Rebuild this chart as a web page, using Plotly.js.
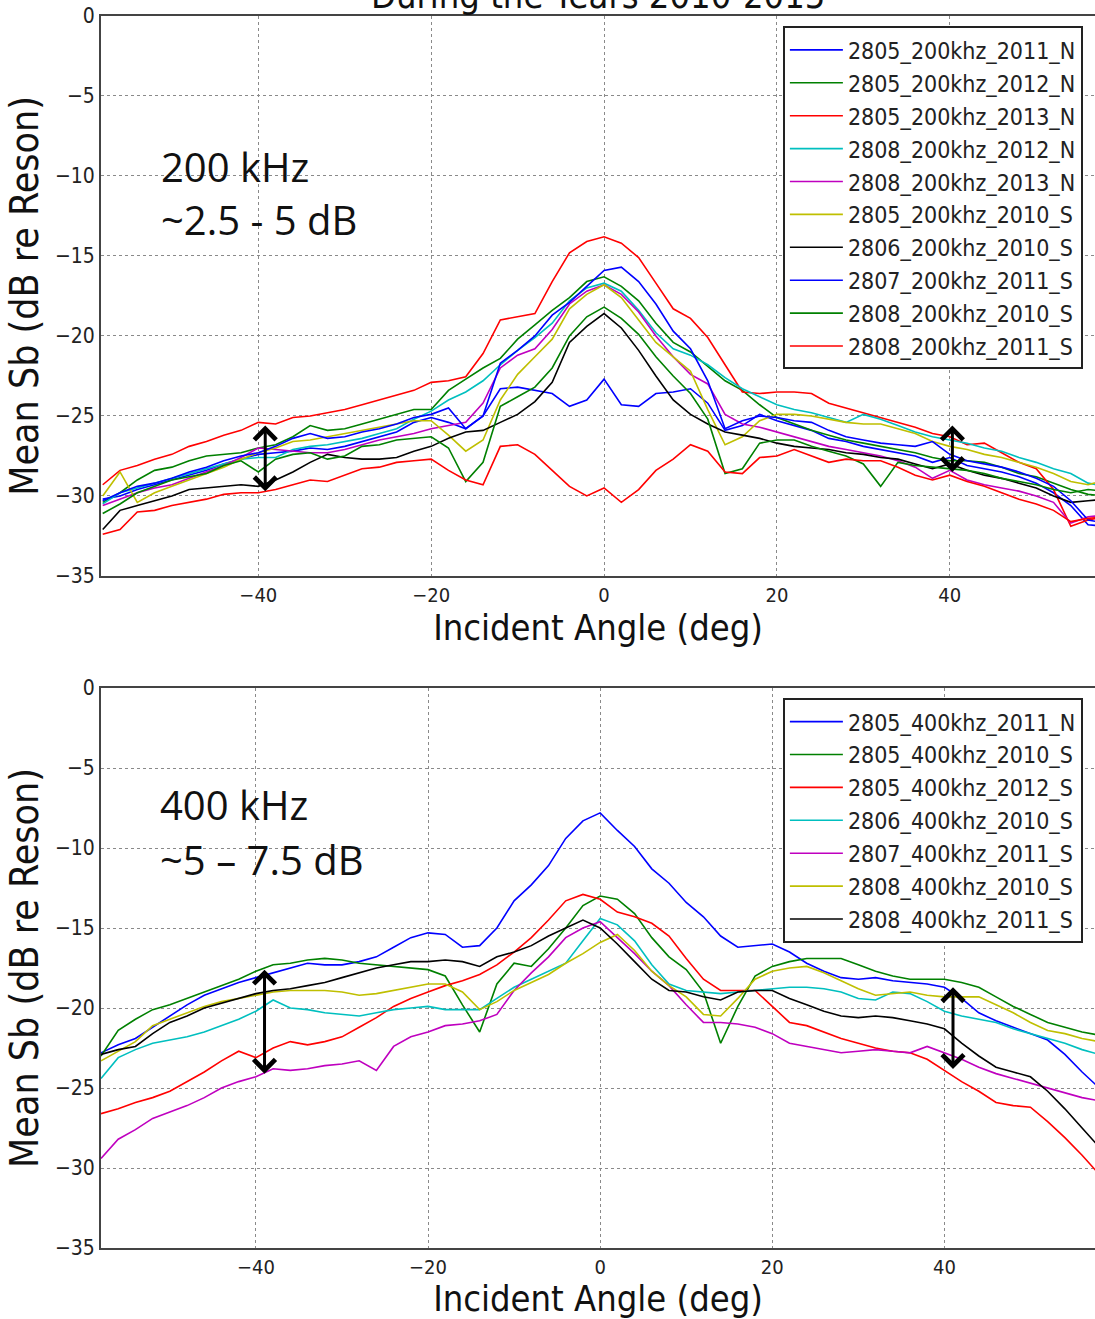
<!DOCTYPE html>
<html><head><meta charset="utf-8">
<script src="https://cdn.plot.ly/plotly-3.0.1.min.js"></script>
<style>html,body{margin:0;padding:0;background:#fff;overflow:hidden}#chart{width:1095px;height:1319px}</style>
</head><body><div id="chart"></div>
<script>
// Incident angle (deg) sample positions
const angles = [-58,-56,-54,-52,-50,-48,-46,-44,-42,-40,-38,-36,-34,-32,-30,-28,-26,-24,-22,-20,-18,-16,-14,-12,-10,-8,-6,-4,-2,0,2,4,6,8,10,12,14,16,18,20,22,24,26,28,30,32,34,36,38,40,42,44,46,48,50,52,54,56,58];

// ---------- 200 kHz ----------
const names200 = ["2805_200khz_2011_N","2805_200khz_2012_N","2805_200khz_2013_N","2808_200khz_2012_N","2808_200khz_2013_N","2805_200khz_2010_S","2806_200khz_2010_S","2807_200khz_2011_S","2808_200khz_2010_S","2808_200khz_2011_S"];
const s200_2805_2011_N = [-30.2,-30.0,-29.6,-29.3,-29.0,-28.7,-28.4,-28.0,-27.7,-27.4,-27.3,-27.2,-27.0,-27.1,-26.9,-26.6,-26.3,-26.0,-25.4,-25.1,-25.4,-25.8,-25.0,-23.3,-23.2,-23.4,-23.6,-24.4,-24.0,-22.7,-24.3,-24.4,-23.6,-23.5,-23.3,-24.2,-25.9,-25.6,-24.9,-25.3,-25.6,-25.9,-26.4,-26.6,-26.9,-27.1,-27.3,-27.5,-27.9,-27.6,-28.1,-28.3,-28.5,-28.8,-29.2,-29.8,-30.6,-31.8,-31.9];
const s200_2805_2012_N = [-30.4,-29.8,-29.0,-28.4,-28.2,-27.8,-27.5,-27.4,-27.3,-27.0,-26.8,-26.3,-25.6,-25.9,-25.8,-25.5,-25.2,-24.9,-24.6,-24.6,-23.4,-22.7,-22.0,-21.4,-20.2,-19.3,-18.4,-17.6,-16.6,-16.3,-16.9,-17.8,-19.2,-20.4,-21.0,-21.9,-22.8,-23.4,-24.3,-25.1,-25.5,-25.9,-26.2,-26.5,-26.7,-26.9,-27.1,-27.3,-27.6,-27.8,-27.8,-27.9,-28.2,-28.6,-28.8,-29.2,-29.6,-29.9,-30.0];
const s200_2805_2013_N = [-29.3,-28.4,-28.1,-27.7,-27.4,-26.9,-26.6,-26.2,-25.9,-25.4,-25.5,-25.1,-25.0,-24.8,-24.6,-24.3,-24.0,-23.7,-23.4,-22.9,-22.8,-22.55,-21.1,-19.0,-18.8,-18.6,-16.6,-14.8,-14.1,-13.8,-14.2,-15.1,-16.7,-18.3,-18.9,-20.1,-21.8,-23.5,-23.6,-23.5,-23.5,-23.6,-24.2,-24.5,-24.8,-25.1,-25.4,-25.7,-26.1,-26.3,-26.8,-26.7,-27.3,-27.9,-28.3,-29.6,-31.9,-31.5,-31.3];
const s200_2808_2012_N = [-30.5,-29.8,-29.5,-29.2,-28.9,-28.6,-28.3,-28.0,-27.7,-27.6,-27.6,-27.1,-26.9,-26.8,-26.6,-26.4,-26.1,-25.8,-25.2,-24.7,-24.0,-23.5,-22.8,-21.8,-20.9,-20.1,-19.2,-17.8,-17.0,-16.7,-17.2,-18.4,-19.8,-20.8,-21.2,-21.8,-22.6,-23.3,-23.8,-24.3,-24.6,-24.8,-25.1,-25.4,-24.9,-25.2,-25.6,-26.0,-26.3,-26.5,-26.7,-27.0,-27.2,-27.6,-27.9,-28.3,-28.6,-29.2,-29.4];
const s200_2808_2013_N = [-30.6,-30.2,-29.8,-29.5,-29.3,-28.9,-28.5,-28.1,-27.6,-27.0,-27.1,-27.2,-27.3,-27.3,-27.1,-26.8,-26.5,-26.3,-26.1,-25.8,-25.6,-25.4,-24.2,-22.0,-21.2,-20.8,-19.6,-18.0,-17.2,-16.8,-17.4,-18.5,-20.0,-21.3,-22.4,-23.0,-24.9,-25.5,-25.7,-26.0,-26.3,-26.6,-26.9,-27.1,-27.3,-27.5,-27.8,-28.2,-28.9,-28.4,-29.0,-29.3,-29.5,-29.7,-30.0,-30.4,-31.7,-31.3,-31.2];
const s200_2805_2010_S = [-30.0,-28.5,-30.4,-29.8,-29.4,-29.0,-28.6,-28.2,-27.7,-27.3,-27.0,-26.6,-26.5,-26.3,-26.1,-25.9,-25.7,-25.5,-25.3,-25.3,-26.2,-27.2,-26.5,-24.0,-22.4,-21.3,-20.2,-18.3,-17.4,-16.8,-17.6,-19.0,-20.4,-21.3,-22.2,-24.6,-26.8,-26.3,-25.3,-24.9,-24.9,-25.0,-25.2,-25.4,-25.5,-25.5,-25.8,-26.1,-26.6,-26.9,-27.1,-27.4,-27.6,-27.9,-28.2,-28.6,-29.1,-29.3,-29.0];
const s200_2806_2010_S = [-32.1,-30.9,-30.6,-30.3,-30.0,-29.6,-29.5,-29.4,-29.3,-29.4,-29.0,-28.5,-27.9,-27.4,-27.6,-27.7,-27.7,-27.6,-27.2,-26.9,-26.4,-26.0,-25.9,-25.4,-24.9,-24.1,-22.9,-20.4,-19.4,-18.6,-19.5,-20.9,-22.5,-24.0,-24.9,-25.5,-26.0,-26.2,-26.4,-26.7,-26.9,-27.0,-27.1,-27.3,-27.4,-27.6,-27.7,-28.0,-28.3,-28.0,-28.4,-28.7,-28.9,-29.2,-29.5,-30.0,-30.4,-30.3,-30.2];
const s200_2807_2011_S = [-30.3,-29.8,-29.4,-29.2,-28.9,-28.5,-28.2,-27.8,-27.5,-27.3,-26.9,-26.4,-26.1,-26.4,-26.3,-26.0,-25.8,-25.5,-25.1,-24.9,-24.5,-25.8,-25.0,-21.7,-20.9,-20.0,-18.7,-17.9,-16.9,-15.9,-15.7,-16.6,-18.0,-19.7,-20.8,-22.8,-25.8,-25.3,-25.0,-25.1,-25.3,-25.4,-25.9,-26.3,-26.5,-26.7,-26.8,-26.9,-26.6,-27.4,-27.8,-28.0,-28.2,-28.5,-28.9,-29.4,-30.3,-31.5,-31.7];
const s200_2808_2010_S = [-31.1,-30.5,-29.8,-29.4,-29.0,-28.8,-28.6,-28.1,-27.8,-28.5,-27.7,-27.4,-27.3,-27.7,-27.5,-26.9,-26.8,-26.5,-26.4,-26.3,-27.0,-29.1,-27.9,-24.4,-23.8,-23.2,-22.0,-20.0,-18.8,-18.2,-18.9,-19.9,-21.3,-22.5,-23.6,-25.2,-28.6,-28.3,-26.7,-26.5,-26.5,-26.9,-27.2,-27.5,-28.0,-29.4,-27.9,-28.1,-28.2,-28.3,-28.4,-28.6,-28.9,-29.1,-29.3,-29.6,-29.8,-29.6,-29.7];
const s200_2808_2011_S = [-32.4,-32.1,-31.0,-30.9,-30.6,-30.4,-30.2,-29.9,-29.8,-29.8,-29.6,-29.3,-29.0,-29.1,-28.7,-28.3,-28.2,-27.9,-27.8,-27.7,-28.4,-29.0,-29.3,-26.9,-26.8,-27.4,-28.4,-29.4,-30.0,-29.5,-30.4,-29.6,-28.4,-27.7,-26.8,-27.2,-28.5,-28.6,-27.6,-27.5,-27.1,-27.5,-27.9,-27.7,-27.8,-27.8,-28.2,-28.7,-29.0,-28.7,-29.1,-29.4,-29.8,-30.2,-30.5,-30.9,-31.6,-31.4,-31.3];
const values200 = [s200_2805_2011_N,s200_2805_2012_N,s200_2805_2013_N,s200_2808_2012_N,s200_2808_2013_N,s200_2805_2010_S,s200_2806_2010_S,s200_2807_2011_S,s200_2808_2010_S,s200_2808_2011_S];
const colors200 = ["#0000ff","#008000","#ff0000","#00bfbf","#bf00bf","#bfbf00","#000000","#0000ff","#008000","#ff0000"];

// ---------- 400 kHz ----------
const names400 = ["2805_400khz_2011_N","2805_400khz_2010_S","2805_400khz_2012_S","2806_400khz_2010_S","2807_400khz_2011_S","2808_400khz_2010_S","2808_400khz_2011_S"];
const s400_2805_2011_N = [-22.8,-22.3,-21.9,-21.2,-20.5,-19.8,-19.2,-18.8,-18.4,-18.1,-17.8,-17.5,-17.2,-17.3,-17.3,-17.1,-16.8,-16.2,-15.6,-15.3,-15.4,-16.2,-16.1,-15.0,-13.3,-12.3,-11.1,-9.4,-8.3,-7.8,-8.9,-9.9,-11.3,-12.2,-13.4,-14.3,-15.5,-16.2,-16.1,-16.0,-16.5,-17.2,-17.7,-18.1,-18.2,-18.1,-18.3,-18.4,-18.5,-18.7,-19.4,-20.3,-20.8,-21.2,-21.6,-22.0,-22.9,-24.0,-25.0];
const s400_2805_2010_S = [-23.0,-21.4,-20.7,-20.1,-19.8,-19.4,-19.0,-18.6,-18.2,-17.7,-17.3,-17.2,-17.0,-16.9,-17.0,-17.2,-17.3,-17.4,-17.5,-17.6,-18.0,-19.8,-21.5,-18.5,-17.2,-17.4,-16.3,-15.0,-13.6,-13.0,-13.2,-14.1,-15.6,-16.8,-17.6,-19.0,-22.2,-19.9,-18.0,-17.4,-17.1,-16.9,-16.9,-16.9,-17.3,-17.7,-18.0,-18.2,-18.2,-18.2,-18.4,-18.7,-19.3,-19.9,-20.4,-20.9,-21.2,-21.5,-21.7];
const s400_2805_2012_S = [-26.6,-26.3,-25.9,-25.6,-25.2,-24.6,-24.0,-23.3,-22.7,-23.1,-22.5,-22.1,-22.3,-22.1,-21.8,-21.2,-20.6,-19.9,-19.4,-19.0,-18.6,-18.3,-17.9,-17.3,-16.5,-15.6,-14.5,-13.3,-12.9,-13.2,-14.0,-14.3,-14.7,-15.5,-16.9,-18.2,-18.9,-18.9,-18.9,-19.9,-20.9,-21.1,-21.5,-21.9,-22.2,-22.5,-22.7,-22.8,-23.2,-23.9,-24.6,-25.2,-25.9,-26.1,-26.2,-27.1,-28.1,-29.2,-30.4];
const s400_2806_2010_S = [-24.4,-23.1,-22.6,-22.2,-22.0,-21.8,-21.5,-21.1,-20.7,-20.2,-19.5,-20.0,-20.1,-20.3,-20.4,-20.5,-20.3,-20.1,-20.0,-19.9,-20.1,-20.1,-20.1,-19.4,-18.7,-18.2,-17.7,-17.2,-15.8,-14.4,-14.8,-15.8,-17.3,-18.5,-18.9,-19.0,-19.1,-19.0,-18.9,-18.8,-18.7,-18.7,-18.8,-19.0,-19.4,-19.5,-19.0,-19.1,-19.6,-20.2,-20.5,-20.7,-20.9,-21.3,-21.6,-21.9,-22.2,-22.6,-22.9];
const s400_2807_2011_S = [-29.4,-28.2,-27.6,-26.9,-26.5,-26.1,-25.6,-25.0,-24.6,-24.3,-23.8,-23.9,-23.8,-23.6,-23.5,-23.3,-23.9,-22.4,-21.8,-21.5,-21.1,-21.0,-20.8,-20.4,-18.9,-17.8,-16.8,-15.6,-15.0,-14.6,-15.6,-16.6,-17.7,-18.6,-19.8,-20.9,-20.9,-21.0,-21.2,-21.6,-22.2,-22.4,-22.6,-22.8,-22.7,-22.6,-22.7,-22.8,-22.4,-22.8,-23.2,-23.7,-24.1,-24.4,-24.7,-25.0,-25.3,-25.6,-25.8];
const s400_2808_2010_S = [-23.3,-22.7,-22.1,-21.1,-20.7,-20.3,-19.9,-19.6,-19.4,-19.2,-19.0,-18.9,-18.9,-18.9,-19.0,-19.2,-19.1,-18.9,-18.7,-18.5,-18.5,-19.0,-20.1,-19.6,-18.9,-18.4,-17.9,-17.2,-16.6,-15.9,-15.4,-16.4,-17.7,-18.6,-19.3,-20.4,-20.5,-19.4,-18.2,-17.7,-17.5,-17.4,-17.8,-18.3,-18.8,-19.2,-19.1,-19.0,-19.2,-19.3,-19.3,-19.3,-19.8,-20.3,-20.9,-21.4,-21.6,-21.9,-22.1];
const s400_2808_2011_S = [-22.9,-22.6,-22.4,-21.6,-20.9,-20.5,-20.0,-19.7,-19.4,-19.1,-18.9,-18.8,-18.6,-18.4,-18.1,-17.8,-17.5,-17.3,-17.1,-17.1,-17.0,-17.1,-17.4,-16.8,-16.5,-16.1,-15.5,-15.0,-14.5,-15.0,-16.0,-17.1,-18.2,-18.9,-19.0,-19.3,-19.5,-19.0,-18.9,-18.9,-19.4,-19.8,-20.2,-20.5,-20.6,-20.5,-20.6,-20.8,-21.0,-21.3,-22.2,-23.0,-23.7,-24.0,-24.3,-25.2,-26.3,-27.5,-28.7];
const values400 = [s400_2805_2011_N,s400_2805_2010_S,s400_2805_2012_S,s400_2806_2010_S,s400_2807_2011_S,s400_2808_2010_S,s400_2808_2011_S];
const colors400 = ["#0000ff","#008000","#ff0000","#00bfbf","#bf00bf","#bfbf00","#000000"];

// spread-indicator arrows [angle, upper dB, lower dB]
const arrows200 = [[-39.2,-25.6,-29.8],[40.3,-25.6,-28.6]];
const arrows400 = [[-39.0,-17.6,-24.2],[41.0,-18.7,-23.9]];
const xTicks = [-40,-20,0,20,40];

const condensed = "DejaVu Sans Condensed, DejaVu Sans, sans-serif";
const traces = [];
names200.forEach((n,i)=>traces.push({x:angles,y:values200[i],name:n,type:'scatter',mode:'lines',
  line:{color:colors200[i],width:1.6},xaxis:'x',yaxis:'y',legend:'legend'}));
names400.forEach((n,i)=>traces.push({x:angles,y:values400[i],name:n,type:'scatter',mode:'lines',
  line:{color:colors400[i],width:1.6},xaxis:'x2',yaxis:'y2',legend:'legend2'}));

function xax(anchor,range){return {anchor:anchor,domain:[0,1],range:range,tickvals:xTicks,ticktext:xTicks.map(v=>v<0?'\u2212'+(-v):''+v),
  showgrid:true,gridcolor:'#8a8a8a',griddash:'dot',gridwidth:1,zeroline:false,showline:true,linecolor:'#444',linewidth:2,mirror:true,
  ticks:'',tickfont:{family:condensed,size:20,color:'#222'},
  title:{text:'Incident Angle (deg)',font:{family:condensed,size:36,color:'#111'},standoff:3}};}
function yax(anchor,domain){return {anchor:anchor,domain:domain,range:[-35,0],dtick:5,tick0:0,
  showgrid:true,gridcolor:'#8a8a8a',griddash:'dot',gridwidth:1,zeroline:false,showline:true,linecolor:'#444',linewidth:2,mirror:false,
  ticks:'',tickfont:{family:condensed,size:21,color:'#222'},
  title:{text:'Mean Sb (dB re Reson)',font:{family:condensed,size:39,color:'#111'},standoff:4}};}

function arrowAnn(a,xr,yr){return {x:a[0],y:a[1],ax:a[0],ay:a[2],xref:xr,yref:yr,axref:xr,ayref:yr,text:'',showarrow:true,
  arrowhead:4,startarrowhead:4,arrowside:'end+start',arrowwidth:3,arrowsize:1.4,startarrowsize:1.4,arrowcolor:'#000',standoff:0,startstandoff:0};}
const bigFont = {family:"Open Sans, sans-serif",size:40,color:'#111'};
const annotations = [
  {text:'During the Years 2010-2015',xref:'paper',yref:'paper',x:0.5,y:1.0165,xanchor:'center',yanchor:'middle',showarrow:false,font:{family:condensed,size:36,color:'#111'}},
  {text:'200 kHz',xref:'x',yref:'y',x:-51.5,y:-9.4,xanchor:'left',yanchor:'middle',showarrow:false,font:bigFont},
  {text:'~2.5 - 5 dB',xref:'x',yref:'y',x:-51.5,y:-12.75,xanchor:'left',yanchor:'middle',showarrow:false,font:bigFont},
  {text:'400 kHz',xref:'x2',yref:'y2',x:-51.4,y:-7.3,xanchor:'left',yanchor:'middle',showarrow:false,font:bigFont},
  {text:'~5 \u2013 7.5 dB',xref:'x2',yref:'y2',x:-51.4,y:-10.7,xanchor:'left',yanchor:'middle',showarrow:false,font:bigFont}
];
arrows200.forEach(a=>annotations.push(arrowAnn(a,'x','y')));
arrows400.forEach(a=>annotations.push(arrowAnn(a,'x2','y2')));

const legendBase = {x:0.686,xanchor:'left',yanchor:'top',bgcolor:'#fff',bordercolor:'#222',borderwidth:2,
  font:{family:condensed,size:23,color:'#222'},itemwidth:53,tracegroupgap:0};
const layout = {
  width:1095,height:1319,paper_bgcolor:'#fff',plot_bgcolor:'#fff',
  margin:{l:101,r:0,t:16,b:71},
  xaxis:xax('y',[-58.2,56.8]), yaxis:yax('x',[0.5455,1]),
  xaxis2:xax('y2',[-58.0,57.5]), yaxis2:yax('x2',[0,0.4545]),
  legend:Object.assign({y:0.9915},legendBase),
  legend2:Object.assign({y:0.4463},legendBase),
  showlegend:true,
  annotations:annotations
};
Plotly.newPlot('chart',traces,layout,{displayModeBar:false,staticPlot:true});
</script></body></html>
